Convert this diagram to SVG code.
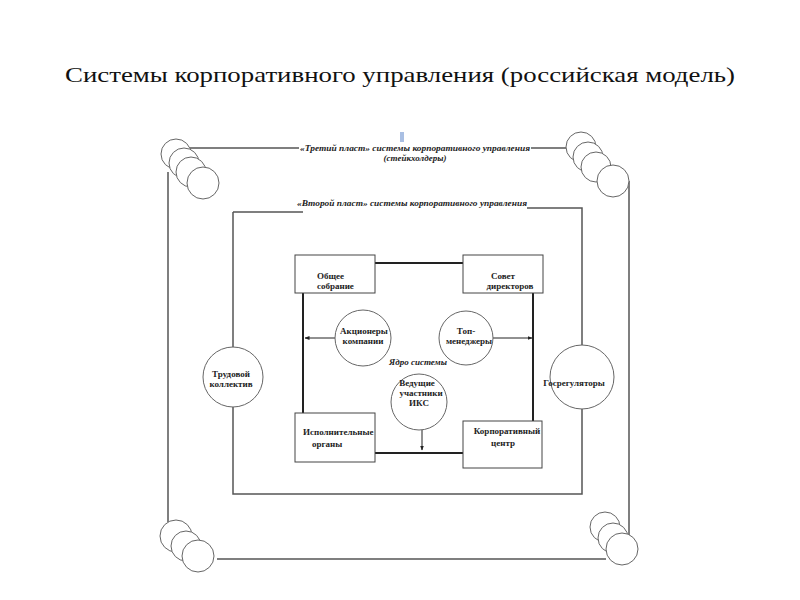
<svg xmlns="http://www.w3.org/2000/svg" width="800" height="600" viewBox="0 0 800 600">
<style>
.frame{fill:none;stroke:#555;stroke-width:1.5}
.core{fill:none;stroke:#222;stroke-width:2}
.box{fill:#fff;stroke:#444;stroke-width:1}
.circ{fill:#fff;stroke:#666;stroke-width:1}
.lbl{font-family:"Liberation Serif",serif;font-size:9px;font-weight:bold;fill:#222}
.ital{font-family:"Liberation Serif",serif;font-size:9px;font-weight:bold;font-style:italic;fill:#222}
.title{font-family:"Liberation Serif",serif;font-size:22px;fill:#111}
</style>
<defs>
<marker id="ah" viewBox="0 0 10 10" refX="9" refY="5" markerWidth="5" markerHeight="5" orient="auto-start-reverse">
<path d="M0,1 L10,5 L0,9 z" fill="#222"/>
</marker>
</defs>
<rect width="800" height="600" fill="#fff"/>
<text class="title" x="400" y="82" text-anchor="middle" textLength="670" lengthAdjust="spacingAndGlyphs">Системы корпоративного управления (российская модель)</text>
<rect x="400" y="132" width="4" height="10" fill="#a9bfe3"/>

<g id="connectors">
<!-- outer frame (third layer) -->
<path class="frame" d="M190,148 H299 M531,148 H566 M168,172 V522 M629,181 V536 M217,559 H606"/>
<!-- second layer frame -->
<path class="frame" d="M233,212 H303 M527,208 H582 V494 H233 V212"/>
<!-- core -->
<path class="core" d="M375,263 H463 M375,453 H463 M303,293 V413 M533,293 V421"/>
<line x1="335" y1="338" x2="305" y2="338" stroke="#222" stroke-width="1" marker-end="url(#ah)"/>
<line x1="493" y1="338" x2="532" y2="338" stroke="#222" stroke-width="1" marker-end="url(#ah)"/>
<line x1="422" y1="430" x2="422" y2="450" stroke="#222" stroke-width="1" marker-end="url(#ah)"/>
</g>

<g id="corner-tl">
<circle class="circ" cx="176" cy="154" r="15"/>
<circle class="circ" cx="184" cy="163" r="15"/>
<circle class="circ" cx="191" cy="172" r="15"/>
<circle class="circ" cx="203" cy="183" r="16"/>
</g>
<g id="corner-tr">
<circle class="circ" cx="581" cy="147" r="15"/>
<circle class="circ" cx="588" cy="157" r="15"/>
<circle class="circ" cx="596" cy="167" r="15"/>
<circle class="circ" cx="613" cy="181" r="16"/>
</g>
<g id="corner-bl">
<circle class="circ" cx="176" cy="536" r="16"/>
<circle class="circ" cx="186" cy="546" r="15"/>
<circle class="circ" cx="198" cy="556" r="16"/>
</g>
<g id="corner-br">
<circle class="circ" cx="605" cy="527" r="15"/>
<circle class="circ" cx="613" cy="538" r="15"/>
<circle class="circ" cx="622" cy="549" r="16"/>
</g>

<g id="layer3-label">
<text class="ital" x="415" y="151" text-anchor="middle" textLength="230" lengthAdjust="spacingAndGlyphs">«Третий пласт» системы корпоративного управления</text>
<text class="ital" x="415" y="161" text-anchor="middle">(стейкхолдеры)</text>
</g>
<g id="layer2-label">
<text class="ital" x="412" y="206" text-anchor="middle" textLength="230" lengthAdjust="spacingAndGlyphs">«Второй пласт» системы корпоративного управления</text>
</g>

<g id="obshchee-sobranie">
<rect class="box" x="295" y="255" width="80" height="38"/>
<text class="lbl" x="317" y="279">Общее</text>
<text class="lbl" x="317" y="289">собрание</text>
</g>
<g id="sovet-direktorov">
<rect class="box" x="463" y="255" width="80" height="38"/>
<text class="lbl" x="503" y="279" text-anchor="middle">Совет</text>
<text class="lbl" x="510" y="289" text-anchor="middle">директоров</text>
</g>
<g id="ispolnitelnye-organy">
<rect class="box" x="295" y="413" width="80" height="49"/>
<text class="lbl" x="303" y="435">Исполнительные</text>
<text class="lbl" x="312" y="447">органы</text>
</g>
<g id="korporativny-tsentr">
<rect class="box" x="463" y="421" width="79" height="47"/>
<text class="lbl" x="507" y="434" text-anchor="middle">Корпоративный</text>
<text class="lbl" x="503" y="446" text-anchor="middle">центр</text>
</g>
<g id="aktsionery">
<circle class="circ" cx="363" cy="338" r="28"/>
<text class="lbl" x="364" y="334" text-anchor="middle">Акционеры</text>
<text class="lbl" x="363" y="344" text-anchor="middle">компании</text>
</g>
<g id="top-menedzhery">
<circle class="circ" cx="466" cy="338" r="27"/>
<text class="lbl" x="466" y="334" text-anchor="middle">Топ-</text>
<text class="lbl" x="469" y="344" text-anchor="middle">менеджеры</text>
</g>
<g id="yadro-label">
<text class="ital" x="418" y="365" text-anchor="middle">Ядро системы</text>
</g>
<g id="vedushchie-iks">
<circle class="circ" cx="419" cy="402" r="28"/>
<text class="lbl" x="417" y="386" text-anchor="middle">Ведущие</text>
<text class="lbl" x="421" y="396" text-anchor="middle">участники</text>
<text class="lbl" x="419" y="406" text-anchor="middle">ИКС</text>
</g>
<g id="trudovoy-kollektiv">
<circle class="circ" cx="233" cy="377" r="30"/>
<text class="lbl" x="231" y="377" text-anchor="middle">Трудовой</text>
<text class="lbl" x="231" y="387" text-anchor="middle">коллектив</text>
</g>
<g id="gosregulyatory">
<circle class="circ" cx="582" cy="377" r="32"/>
<text class="lbl" x="574" y="386" text-anchor="middle">Госрегуляторы</text>
</g>
</svg>
